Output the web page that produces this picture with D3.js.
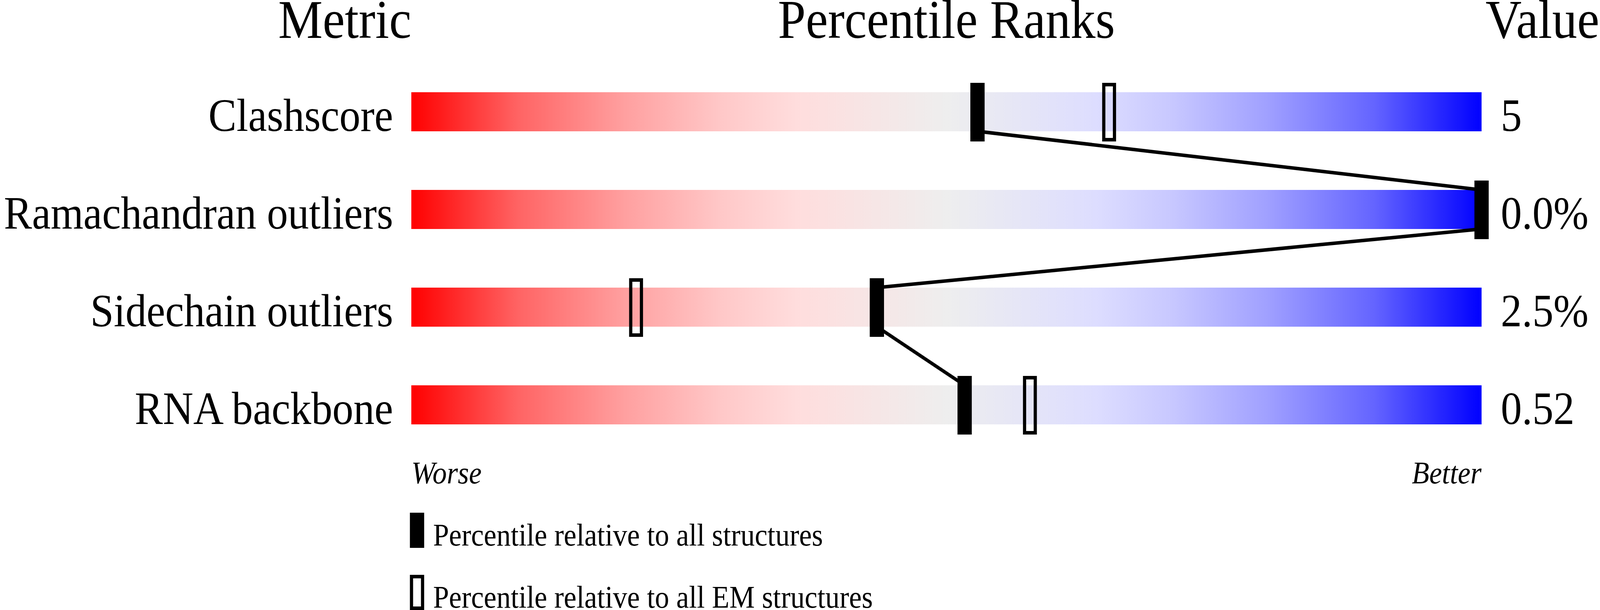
<!DOCTYPE html>
<html>
<head>
<meta charset="utf-8">
<script src="https://cdn.jsdelivr.net/npm/d3@7"></script>
<style>
  html, body { margin: 0; padding: 0; background: #fff; overflow: hidden; }
  #container { width: 100vw; height: 100vh; }
  svg { display: block; }
</style>
</head>
<body>
<div id="container"></div>
<script>
// values
let metrics = ['Clashscore', 'Ramachandran outliers', 'Sidechain outliers', 'RNA backbone'];
let valueLabels = ['5', '0.0%', '2.5%', '0.52'];
let pctAll = [52.9, 100, 43.5, 51.7];   // percentile relative to all structures
let pctEM = [65.2, 100, 21, 57.8];      // percentile relative to all EM structures
let legendLabels = ['Percentile relative to all structures', 'Percentile relative to all EM structures'];

let w = 4485,
    h = 1561;

let font = '"Liberation Serif", "Times New Roman", Times, serif';

// drawn in 4485x1561 units, stretched over the whole window
let viz = d3.select('#container')
    .append('svg')
      .attr('viewBox', '0 0 ' + w + ' ' + h)
      .attr('preserveAspectRatio', 'none')
      .style('width', '100%')
      .style('height', '100%')
      .style('background', '#fff')
      .attr('font-family', font)
;

let x = d3.scaleLinear().domain([0, 100]).range([1153, 4153]);
let y = d3.scaleBand().domain(metrics).range([236, 1086]).paddingInner(0.6);

function main() {
    // gradient for the bars
    let grad = viz.append('defs').append('linearGradient')
        .attr('id', 'rank')
        .attr('x1', '0%').attr('x2', '100%')
        .attr('y1', '0%').attr('y2', '0%');
    [[0, '#ff0000'], [0.1, '#ff6464'], [0.2, '#ffa0a0'], [0.29, '#ffc8c8'], [0.36, '#ffdddd'],
     [0.5, '#eeeeee'], [0.64, '#ddddff'], [0.71, '#c8c8ff'], [0.8, '#a0a0ff'], [0.9, '#6464ff'], [1, '#0000ff']]
        .forEach(s => grad.append('stop').attr('offset', s[0]).attr('stop-color', s[1]));

    // headers
    let head = viz.append('g').attr('font-size', 140).attr('fill', '#000');
    head.append('text').attr('x', x(0)).attr('y', 97).attr('text-anchor', 'end').text('Metric');
    head.append('text').attr('x', x(50)).attr('y', 97).attr('text-anchor', 'middle').text('Percentile Ranks');
    head.append('text').attr('x', w - 2).attr('y', 97).attr('text-anchor', 'end').text('Value');

    // bars
    viz.append('g').selectAll('rect')
        .data(metrics)
        .join('rect')
          .attr('x', x(0))
          .attr('y', d => y(d))
          .attr('width', x(100) - x(0))
          .attr('height', y.bandwidth())
          .attr('fill', 'url(#rank)');

    // metric names and values
    viz.append('g').attr('font-size', 118).selectAll('text')
        .data(metrics)
        .join('text')
          .attr('x', x(0) - 51)
          .attr('y', d => y(d) + 99)
          .attr('text-anchor', 'end')
          .text(d => d);
    viz.append('g').attr('font-size', 118).selectAll('text')
        .data(valueLabels)
        .join('text')
          .attr('x', x(100) + 54)
          .attr('y', (d, i) => y(metrics[i]) + 99)
          .text(d => d);

    // EM markers (open)
    viz.append('g').selectAll('rect')
        .data(pctEM)
        .join('rect')
          .attr('x', d => x(d) - 15)
          .attr('y', (d, i) => y(metrics[i]) - 19.5)
          .attr('width', 30)
          .attr('height', 141)
          .attr('fill', 'none')
          .attr('stroke', '#000')
          .attr('stroke-width', 9);

    // connecting line through all-structure markers
    let pts = [];
    pctAll.forEach((p, i) => {
        pts.push([x(p), y(metrics[i])]);
        pts.push([x(p), y(metrics[i]) + y.bandwidth()]);
    });
    viz.append('path')
        .attr('d', d3.line()(pts))
        .attr('fill', 'none')
        .attr('stroke', '#000')
        .attr('stroke-width', 9);

    // solid markers
    viz.append('g').selectAll('rect')
        .data(pctAll)
        .join('rect')
          .attr('x', d => x(d) - 20)
          .attr('y', (d, i) => y(metrics[i]) - 24)
          .attr('width', 40)
          .attr('height', 150)
          .attr('fill', '#000');

    // worse / better
    let ends = viz.append('g').attr('font-size', 80).attr('font-style', 'italic');
    ends.append('text').attr('x', x(0)).attr('y', 1237).text('Worse');
    ends.append('text').attr('x', x(100)).attr('y', 1237).attr('text-anchor', 'end').text('Better');

    // legend
    let leg = viz.append('g').attr('font-size', 80);
    leg.append('rect')
        .attr('x', 1149).attr('y', 1312).attr('width', 40).attr('height', 90)
        .attr('fill', '#000');
    leg.append('rect')
        .attr('x', 1153.5).attr('y', 1475.5).attr('width', 31).attr('height', 81)
        .attr('fill', 'none').attr('stroke', '#000').attr('stroke-width', 9);
    leg.selectAll('text')
        .data(legendLabels)
        .join('text')
          .attr('x', 1214)
          .attr('y', (d, i) => 1396 + i * 159)
          .text(d => d);
}

main();
</script>
</body>
</html>
